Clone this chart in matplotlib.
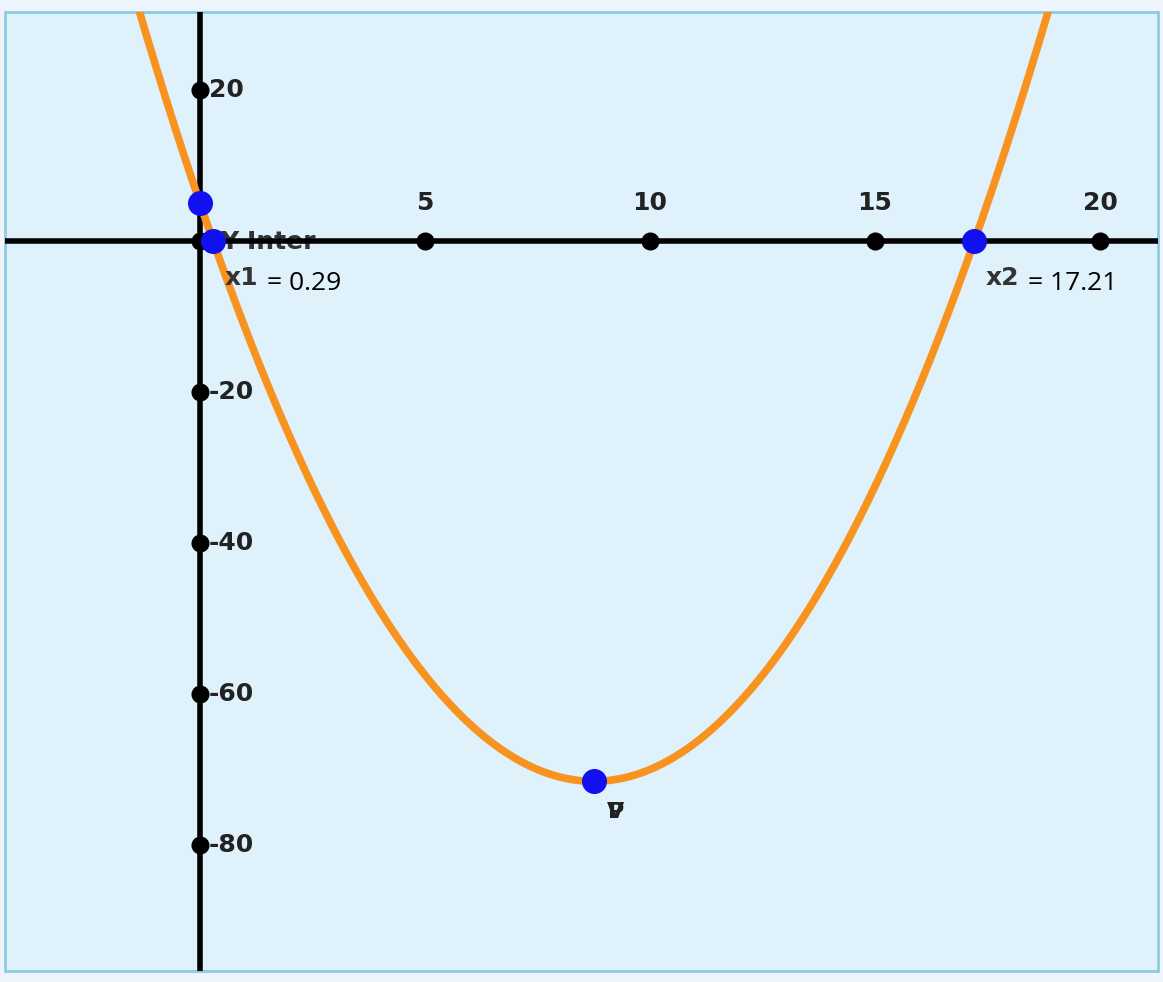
import numpy as np
import matplotlib
matplotlib.use("Agg")
import matplotlib.pyplot as plt
from matplotlib.patches import Rectangle

# quadratic y = a x^2 + b x + c
coeffs = [1.0, -17.5, 5.0]
roots = [0.29, 17.21]
root_labels = ["x1", "x2"]
vertex = (8.75, -71.56)
y_intercept = 5.0
x_ticks = [5, 10, 15, 20]
y_ticks = [20, -20, -40, -60, -80]

W, H = 1163, 982
fig = plt.figure(figsize=(W / 100, H / 100), dpi=100)
fig.patch.set_facecolor("#eef4fb")
ax = fig.add_axes([0, 0, 1, 1])
ax.set_facecolor("none")
ax.axis("off")

# pixel mapping: x=0 at px 200, 45 px/unit; y=0 at px 241, 7.55 px/unit
ax.set_xlim(-200 / 45, (W - 200) / 45)
ax.set_ylim(-(H - 241) / 7.55, 241 / 7.55)

# plot area box
box = Rectangle((5 / W, (H - 971) / H), (1158 - 5) / W, (971 - 12) / H,
                transform=ax.transAxes, facecolor="#dff1fb",
                edgecolor="#8ccbe0", linewidth=2, zorder=0)
ax.add_patch(box)

xl = (5 - 200) / 45
xr = (1158 - 200) / 45
yt = (241 - 12) / 7.55
yb = -(971 - 241) / 7.55

# label that sits under the x axis
ax.text(0.45, -0.1, "Y Inter", fontsize=18, fontweight="bold", color="#333333",
        va="center", ha="left", zorder=1)

# axes
ax.plot([xl, xr], [0, 0], color="black", lw=4, zorder=2, solid_capstyle="butt")
ax.plot([0, 0], [yb, yt], color="black", lw=4, zorder=2, solid_capstyle="butt")
ax.plot(x_ticks + [0] * len(y_ticks) + [0], [0] * len(x_ticks) + y_ticks + [0],
        "o", color="black", ms=12, zorder=3)

for t in x_ticks:
    ax.text(t, 5.0, f"{t}", fontsize=18, fontweight="bold", color="#222222",
            ha="center", va="center", zorder=3)
for t in y_ticks:
    ax.text(0.2, t, f"{t}", fontsize=18, fontweight="bold", color="#222222",
            ha="left", va="center", zorder=3)

# parabola
xs = np.linspace(xl, xr, 800)
ys = np.polyval(coeffs, xs)
line, = ax.plot(xs, ys, color="#f7931e", lw=5.5, zorder=4)
line.set_clip_path(box)

# points
ax.plot([0], [y_intercept], "o", color="#1010f0", ms=17, zorder=5)
ax.plot(roots, [0, 0], "o", color="#1010f0", ms=17, zorder=5)
ax.plot([vertex[0]], [vertex[1]], "o", color="#1010f0", ms=17, zorder=5)

# root labels
ax.text(0.55, -4.9, root_labels[0], fontsize=18, fontweight="bold", color="#333333",
        ha="left", va="center", zorder=6)
ax.text(1.48, -5.6, f"= {roots[0]:.2f}", fontsize=19, family="Open Sans",
        color="black", ha="left", va="center", zorder=6)
ax.text(17.46, -4.9, root_labels[1], fontsize=18, fontweight="bold", color="#333333",
        ha="left", va="center", zorder=6)
ax.text(18.4, -5.6, f"= {roots[1]:.2f}", fontsize=19, family="Open Sans",
        color="black", ha="left", va="center", zorder=6)

# vertex label (P and V drawn over each other)
for s in ["P", "V"]:
    ax.text(9.24, -75.6, s, fontsize=16, fontweight="bold",
            color="#222222", ha="center", va="center", zorder=6)

fig.savefig("out.png", dpi=100, facecolor=fig.get_facecolor())
